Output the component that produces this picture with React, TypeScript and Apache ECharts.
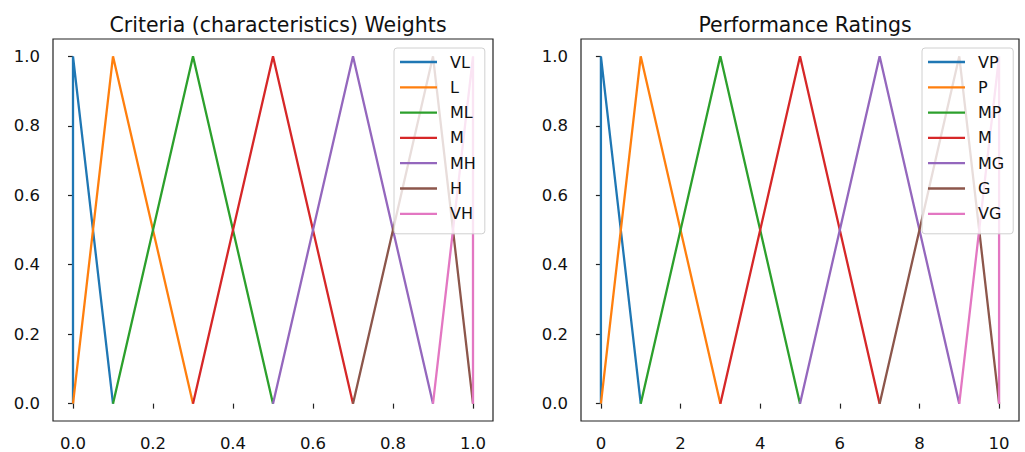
import React, { useEffect, useRef } from "react";
import * as echarts from "echarts";

const weightLabels = ["VL", "L", "ML", "M", "MH", "H", "VH"];
const weightTriples = [
  [0, 0, 0.1],
  [0, 0.1, 0.3],
  [0.1, 0.3, 0.5],
  [0.3, 0.5, 0.7],
  [0.5, 0.7, 0.9],
  [0.7, 0.9, 1.0],
  [0.9, 1.0, 1.0],
];
const ratingLabels = ["VP", "P", "MP", "M", "MG", "G", "VG"];
const ratingTriples = [
  [0, 0, 1],
  [0, 1, 3],
  [1, 3, 5],
  [3, 5, 7],
  [5, 7, 9],
  [7, 9, 10],
  [9, 10, 10],
];
const membership = [0, 1, 0];
const weightTicks = [0, 0.2, 0.4, 0.6, 0.8, 1.0];
const ratingTicks = [0, 2, 4, 6, 8, 10];
const yTicks = [0, 0.2, 0.4, 0.6, 0.8, 1.0];
const colors = ["#1f77b4", "#ff7f0e", "#2ca02c", "#d62728", "#9467bd", "#8c564b", "#e377c2"];

const FONT = "DejaVu Sans";
const TXT = "#111";

export default function App() {
  const ref = useRef<HTMLDivElement>(null);
  useEffect(() => {
    document.body.style.margin = "0";
    const chart = echarts.init(ref.current!, undefined, { renderer: "svg" });

    const mkX = (gridIndex: number, min: number, max: number, ticks: number[], fmt: (v: number) => string) => ({
      type: "value",
      gridIndex,
      min,
      max,
      axisLine: { show: false },
      splitLine: { show: false },
      axisTick: { show: true, length: 5, customValues: ticks, lineStyle: { color: "#222", width: 1.2 } },
      axisLabel: { customValues: ticks, formatter: fmt, margin: 14, color: TXT, fontFamily: FONT, fontSize: 16.5 },
    });
    const mkY = (gridIndex: number) => ({
      type: "value",
      gridIndex,
      min: -0.05,
      max: 1.05,
      axisLine: { show: false },
      splitLine: { show: false },
      axisTick: { show: true, length: 5, customValues: yTicks, lineStyle: { color: "#222", width: 1.2 } },
      axisLabel: { customValues: yTicks, formatter: (v: number) => v.toFixed(1), margin: 13, color: TXT, fontFamily: FONT, fontSize: 16.5 },
    });

    const mkSeries = (labels: string[], triples: number[][], idx: number) =>
      labels.map((name, i) => ({
        type: "line",
        name,
        xAxisIndex: idx,
        yAxisIndex: idx,
        symbol: "none",
        color: colors[i],
        lineStyle: { width: 2.3, color: colors[i] },
        data: triples[i].map((x, k) => [x, membership[k]]),
        z: 2 + i * 0.01,
      }));

    const mkLegend = (labels: string[], left: number) => ({
      data: labels,
      orient: "vertical",
      left,
      top: 48,
      icon: "rect",
      itemWidth: 37,
      itemHeight: 2.3,
      itemGap: 9.3,
      padding: [6, 9, 12, 6],
      backgroundColor: "rgba(255,255,255,0.8)",
      borderColor: "#d0d0d0",
      borderWidth: 1,
      borderRadius: 3,
      selectedMode: false,
      textStyle: { color: TXT, fontFamily: FONT, fontSize: 16, lineHeight: 16, padding: [0, 0, 0, 8] },
      z: 10,
    });

    chart.setOption({
      animation: false,
      backgroundColor: "#fff",
      title: [
        { text: "Criteria (characteristics) Weights", left: 273, top: 9, textAlign: "center",
          textStyle: { fontFamily: FONT, fontSize: 20.5, fontWeight: "normal", color: TXT } },
        { text: "Performance Ratings", left: 800, top: 9, textAlign: "center",
          textStyle: { fontFamily: FONT, fontSize: 20.5, fontWeight: "normal", color: TXT } },
      ],
      grid: [
        { left: 53, top: 39, width: 440, height: 385, show: true, borderColor: "#222", borderWidth: 1.2, backgroundColor: "transparent" },
        { left: 581, top: 39, width: 438, height: 385, show: true, borderColor: "#222", borderWidth: 1.2, backgroundColor: "transparent" },
      ],
      xAxis: [
        mkX(0, -0.05, 1.05, weightTicks, (v: number) => v.toFixed(1)),
        mkX(1, -0.5, 10.5, ratingTicks, (v: number) => String(v)),
      ],
      yAxis: [mkY(0), mkY(1)],
      legend: [mkLegend(weightLabels, 394), mkLegend(ratingLabels, 922)],
      series: [...mkSeries(weightLabels, weightTriples, 0), ...mkSeries(ratingLabels, ratingTriples, 1)],
    });
    return () => chart.dispose();
  }, []);
  return <div ref={ref} style={{ width: 1025, height: 452 }} />;
}
